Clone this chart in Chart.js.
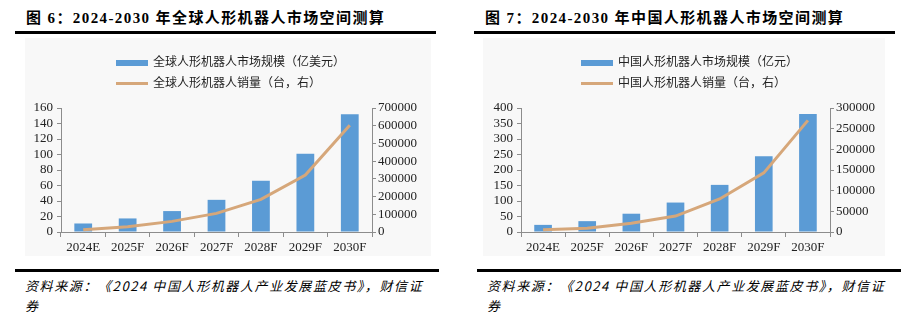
<!DOCTYPE html>
<html>
<head>
<meta charset="utf-8">
<script src="https://cdn.jsdelivr.net/npm/chart.js@4.4.1/dist/chart.umd.min.js"></script>
<style>
  body { margin: 0; width: 905px; height: 325px; background: #fff; position: relative; overflow: hidden; }
  .title { position: absolute; top: 6px; font-family: "Liberation Serif", "Noto Sans CJK SC", serif; font-weight: bold; font-size: 15px; letter-spacing: 1.4px; color: #000; white-space: nowrap; }
  .rule { position: absolute; height: 3px; background: #000; }
  .box { position: absolute; top: 38px; height: 218px; background: #f8f8f8; }
  .box canvas { position: absolute; left: 0; top: 0; }
  .legend { position: absolute; top: 12px; font-family: "Noto Sans CJK SC", sans-serif; font-size: 12px; color: #222; }
  .legend div { height: 21px; line-height: 21px; white-space: nowrap; }
  .legend span { display: inline-block; width: 32px; vertical-align: middle; margin-right: 5px; }
  .src { position: absolute; top: 276px; font-family: "Noto Sans CJK SC", sans-serif; font-style: italic; font-size: 13px; line-height: 20px; letter-spacing: 1.6px; color: #000; white-space: nowrap; }
</style>
</head>
<body>
  <div class="title" style="left:26px">图 6：2024-2030 年全球人形机器人市场空间测算</div>
  <div class="rule" style="left:15px; top:31px; width:421px"></div>
  <div class="box" style="left:25px; width:406px">
    <canvas id="graficoGlobal" width="406" height="218"></canvas>
    <div class="legend" id="legendaGlobal" style="left:91px"></div>
  </div>
  <div class="rule" style="left:15px; top:269px; width:424px"></div>
  <div class="src" style="left:25px">资料来源：《2024 中国人形机器人产业发展蓝皮书》，财信证<br>券</div>

  <div class="title" style="left:485px">图 7：2024-2030 年中国人形机器人市场空间测算</div>
  <div class="rule" style="left:474px; top:31px; width:421px"></div>
  <div class="box" style="left:483px; width:402px">
    <canvas id="graficoChina" width="402" height="218"></canvas>
    <div class="legend" id="legendaChina" style="left:98px"></div>
  </div>
  <div class="rule" style="left:477px; top:269px; width:424px"></div>
  <div class="src" style="left:487px">资料来源：《2024 中国人形机器人产业发展蓝皮书》，财信证<br>券</div>

<script>
// --- DADOS ---
const categorias = ['2024E', '2025F', '2026F', '2027F', '2028F', '2029F', '2030F'];

const mercadoGlobal = [11, 17.5, 27, 41.5, 66, 101, 152];          // 亿美元
const vendasGlobal = [13000, 30000, 60000, 105000, 184000, 322000, 602000]; // 台

const mercadoChina = [23, 35, 59, 95, 152, 244, 381];               // 亿元
const vendasChina = [5600, 9000, 21000, 38500, 80000, 143000, 270000];     // 台

const rotulosBarraGlobal = '全球人形机器人市场规模（亿美元）';
const rotulosLinhaGlobal = '全球人形机器人销量（台，右）';
const rotulosBarraChina = '中国人形机器人市场规模（亿元）';
const rotulosLinhaChina = '中国人形机器人销量（台，右）';

const escalaGlobal = { max: 160, step: 20, max1: 700000, step1: 100000 };
const escalaChina = { max: 400, step: 50, max1: 300000, step1: 50000 };

const corBarra = '#5b9bd5';
const corLinha = '#d6a77a';
const corEixo = '#8c8c8c';
const fonteTicks = { family: '"Liberation Serif", serif', size: 13 };

function criarGrafico(id, legendaId, barras, linha, rotBarra, rotLinha, esc, larguraEsq, larguraDir) {
    const ctx = document.getElementById(id);
    const grafico = new Chart(ctx, {
        type: 'bar',
        data: {
            labels: categorias,
            datasets: [
                {
                    type: 'bar',
                    label: rotBarra,
                    data: barras,
                    backgroundColor: corBarra,
                    barPercentage: 0.4,
                    categoryPercentage: 1,
                    yAxisID: 'y',
                    order: 2
                },
                {
                    type: 'line',
                    label: rotLinha,
                    data: linha,
                    borderColor: corLinha,
                    borderWidth: 3,
                    pointRadius: 0,
                    tension: 0,
                    yAxisID: 'y1',
                    order: 1
                }
            ]
        },
        options: {
            responsive: false,
            animation: false,
            layout: { padding: { top: 70, left: 0, right: 0, bottom: 0 } },
            plugins: { legend: { display: false }, tooltip: { enabled: false } },
            scales: {
                x: {
                    grid: { display: true, drawOnChartArea: false, tickLength: 5, color: corEixo },
                    border: { color: corEixo },
                    ticks: { color: '#222', font: fonteTicks, padding: 3, autoSkip: false, maxRotation: 0 },
                    afterFit: (s) => { s.height = 24; }
                },
                y: {
                    min: 0, max: esc.max,
                    grid: { display: true, drawOnChartArea: false, tickLength: 4, color: corEixo },
                    border: { color: corEixo },
                    ticks: { stepSize: esc.step, autoSkip: false, color: '#222', font: fonteTicks, padding: 4, callback: v => String(v) },
                    afterFit: (s) => { s.width = larguraEsq; }
                },
                y1: {
                    position: 'right',
                    min: 0, max: esc.max1,
                    grid: { display: true, drawOnChartArea: false, tickLength: 4, color: corEixo },
                    border: { color: corEixo },
                    ticks: { stepSize: esc.step1, autoSkip: false, color: '#222', font: fonteTicks, padding: 2, callback: v => String(v) },
                    afterFit: (s) => { s.width = larguraDir; }
                }
            }
        }
    });

    // legenda em HTML, montada a partir dos datasets
    const leg = document.getElementById(legendaId);
    grafico.data.datasets.forEach(ds => {
        const linhaLeg = document.createElement('div');
        const amostra = document.createElement('span');
        if (ds.type === 'bar') {
            amostra.style.height = '6px';
            amostra.style.background = ds.backgroundColor;
        } else {
            amostra.style.height = '3px';
            amostra.style.background = ds.borderColor;
        }
        linhaLeg.appendChild(amostra);
        linhaLeg.appendChild(document.createTextNode(ds.label));
        leg.appendChild(linhaLeg);
    });
}

criarGrafico('graficoGlobal', 'legendaGlobal', mercadoGlobal, vendasGlobal,
    rotulosBarraGlobal, rotulosLinhaGlobal, escalaGlobal, 36, 59);
criarGrafico('graficoChina', 'legendaChina', mercadoChina, vendasChina,
    rotulosBarraChina, rotulosLinhaChina, escalaChina, 38, 55);
</script>
</body>
</html>
